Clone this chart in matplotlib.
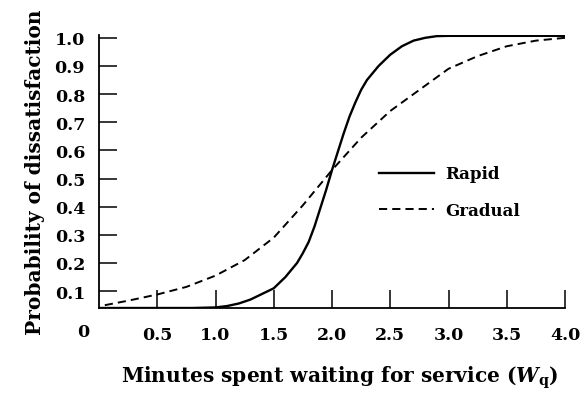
import matplotlib
matplotlib.use("Agg")
import matplotlib.pyplot as plt

# values
rapid_x = [0.0, 0.5, 0.8, 1.0, 1.1, 1.2, 1.3, 1.4, 1.5, 1.6, 1.7, 1.75, 1.8, 1.85,
           1.9, 1.95, 2.0, 2.05, 2.1, 2.15, 2.2, 2.25, 2.3, 2.4, 2.5, 2.6, 2.7,
           2.8, 2.9, 3.0, 3.5, 4.0]
rapid_y = [0.04, 0.04, 0.04, 0.042, 0.047, 0.056, 0.07, 0.09, 0.11, 0.15, 0.20,
           0.235, 0.275, 0.33, 0.395, 0.46, 0.53, 0.595, 0.66, 0.72, 0.77, 0.815,
           0.85, 0.9, 0.94, 0.97, 0.99, 1.0, 1.006, 1.007, 1.007, 1.007]

gradual_x = [0.05, 0.25, 0.5, 0.75, 1.0, 1.25, 1.5, 1.75, 2.0, 2.25, 2.5, 2.75,
             3.0, 3.25, 3.5, 3.75, 4.0]
gradual_y = [0.05, 0.066, 0.088, 0.115, 0.155, 0.21, 0.29, 0.405, 0.53, 0.645,
             0.74, 0.815, 0.89, 0.935, 0.97, 0.99, 1.0]

x_ticks = [0.5, 1.0, 1.5, 2.0, 2.5, 3.0, 3.5, 4.0]
y_ticks = [0.1, 0.2, 0.3, 0.4, 0.5, 0.6, 0.7, 0.8, 0.9, 1.0]

plt.rcParams["font.family"] = "DejaVu Serif"
plt.rcParams["font.weight"] = "bold"
plt.rcParams["axes.labelweight"] = "bold"
plt.rcParams["mathtext.fontset"] = "custom"
plt.rcParams["mathtext.rm"] = "DejaVu Serif:bold"
plt.rcParams["mathtext.it"] = "DejaVu Serif:italic:bold"

fig = plt.figure(figsize=(5.84, 4.02), dpi=100)
ax = fig.add_axes([99 / 584, 1 - 309 / 402, 466 / 584, 273 / 402])

ax.plot(rapid_x, rapid_y, color="black", lw=1.7, label="Rapid")
ax.plot(gradual_x, gradual_y, color="black", lw=1.4, dashes=(4.2, 2.6), label="Gradual")

ax.set_xlim(0, 4.0)
ax.set_ylim(0.04, 1.01)
ax.spines["top"].set_visible(False)
ax.spines["right"].set_visible(False)
ax.spines["left"].set_linewidth(1.3)
ax.spines["bottom"].set_linewidth(1.3)

ax.set_xticks(x_ticks)
ax.set_xticklabels([f"{v:.1f}" for v in x_ticks])
ax.set_yticks(y_ticks)
ax.set_yticklabels([f"{v:.1f}" for v in y_ticks])
ax.tick_params(direction="in", length=13, width=1.1, labelsize=12.5)
ax.tick_params(axis="x", pad=13)
ax.tick_params(axis="y", pad=10)

fig.text(83 / 584, 1 - 333 / 402, "0", ha="center", va="center", fontsize=12.5)

ax.set_xlabel(r"Minutes spent waiting for service ($W_{\mathrm{q}}$)", fontsize=14.5)
ax.xaxis.set_label_coords(0.517, -0.205)
ax.set_ylabel("Probability of dissatisfaction", fontsize=14.5, labelpad=7)

ax.legend(loc="upper left", bbox_to_anchor=(0.569, 0.577), frameon=False, fontsize=12,
          handlelength=3.3, handletextpad=0.65, labelspacing=1.15)

fig.savefig("out.png", dpi=100)
